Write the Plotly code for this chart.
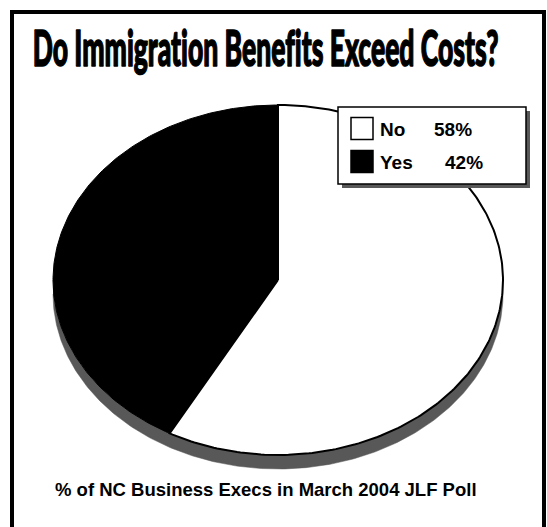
import json
import numpy as np
import plotly.graph_objects as go

# Poll results
categories = ["No", "Yes"]
shares = [58, 42]
slice_colors = ["#ffffff", "#000000"]
title_text = "Do Immigration Benefits Exceed Costs?"
footer_text = "% of NC Business Execs in March 2004 JLF Poll"

W, H = 547, 527

# Tilted pie geometry (pixel space): centre, radii and extrusion depth
cx, cy, rx, ry, depth = 278, 280, 225, 175, 14
side_color = "#585858"


def arc(t0, t1, n=240, dy=0.0):
    """Points on the ellipse; angle measured from 12 o'clock, counter-clockwise."""
    t = np.linspace(t0, t1, n)
    return cx - rx * np.sin(t), cy + dy - ry * np.cos(t)


fig = go.Figure()

# Extruded side of the pie (lower half only)
bx1, by1 = arc(np.pi / 2, 3 * np.pi / 2, dy=depth)
bx2, by2 = arc(3 * np.pi / 2, np.pi / 2, dy=0)
fig.add_trace(go.Scatter(
    x=np.concatenate([bx1, bx2]), y=np.concatenate([by1, by2]),
    fill="toself", fillcolor=side_color, mode="lines",
    line=dict(color=side_color, width=0.5), hoverinfo="skip", showlegend=False))

# Slices laid counter-clockwise from the top: "Yes" first, then "No"
order = [1, 0]
start = 0.0
for i in order:
    frac = shares[i] / sum(shares)
    t0, t1 = start * 2 * np.pi, (start + frac) * 2 * np.pi
    ax, ay = arc(t0, t1)
    xs = np.concatenate([[cx], ax, [cx]])
    ys = np.concatenate([[cy], ay, [cy]])
    fig.add_trace(go.Scatter(
        x=xs, y=ys, fill="toself", fillcolor=slice_colors[i], mode="lines",
        line=dict(color="#000000", width=2 if slice_colors[i] == "#ffffff" else 1),
        name=categories[i], hovertemplate=f"{categories[i]}: {shares[i]}%<extra></extra>",
        showlegend=False))
    start += frac

shapes = []
annotations = []

# Outer frame
shapes.append(dict(type="rect", xref="x", yref="y", x0=12, y0=12, x1=544, y1=545,
                   line=dict(color="#000000", width=4), fillcolor="rgba(0,0,0,0)"))

# Legend box with drop shadow
lx0, ly0, lx1, ly1 = 338, 107, 526, 184
shapes.append(dict(type="rect", xref="x", yref="y", x0=lx0 + 4, y0=ly0 + 4, x1=lx1 + 4, y1=ly1 + 4,
                   line=dict(width=0), fillcolor=side_color, layer="above"))
shapes.append(dict(type="rect", xref="x", yref="y", x0=lx0, y0=ly0, x1=lx1, y1=ly1,
                   line=dict(color="#000000", width=1.5), fillcolor="#ffffff", layer="above"))

legend_font = dict(family="Liberation Sans, Arial, sans-serif", size=19, color="#000")
row_y = [128.5, 161.5]
pct_x = [432, 443]
for k, i in enumerate([0, 1]):
    yc = row_y[k]
    shapes.append(dict(type="rect", xref="x", yref="y", x0=351, y0=yc - 11, x1=373, y1=yc + 11,
                       line=dict(color="#000000", width=1.5), fillcolor=slice_colors[i], layer="above"))
    annotations.append(dict(x=378, y=yc + 1, xref="x", yref="y", text=f"<b>{categories[i]}</b>",
                            showarrow=False, xanchor="left", yanchor="middle", font=legend_font))
    annotations.append(dict(x=pct_x[k], y=yc + 1, xref="x", yref="y", text=f"<b>{shares[i]}%</b>",
                            showarrow=False, xanchor="left", yanchor="middle", font=legend_font))

# Title and footer
annotations.append(dict(x=265, y=47, xref="x", yref="y", text=title_text,
                        showarrow=False, xanchor="center", yanchor="middle",
                        font=dict(family="Lato, Roboto, sans-serif", weight=900, size=50, color="#000")))
annotations.append(dict(x=266, y=489, xref="x", yref="y", text=f"<b>{footer_text}</b>",
                        showarrow=False, xanchor="center", yanchor="middle",
                        font=dict(family="Liberation Sans, Arial, sans-serif", size=18.5, color="#000")))

fig.update_layout(
    width=W, height=H, margin=dict(l=0, r=0, t=0, b=0),
    paper_bgcolor="#ffffff", plot_bgcolor="#ffffff",
    xaxis=dict(range=[0, W], visible=False, fixedrange=True),
    yaxis=dict(range=[H, 0], visible=False, fixedrange=True),
    shapes=shapes, annotations=annotations, showlegend=False,
)

# Condense and embolden the title face so it reads like a heavy condensed typeface
title_width_px = 466
post_js = """
(function(){
  var gd = document.getElementById('{plot_id}');
  var want = %s, target = %d;
  gd.querySelectorAll('g.annotation text').forEach(function(t){
    if (t.textContent !== want) return;
    t.removeAttribute('transform');
    t.style.fontVariantLigatures = 'none';
    t.style.fontFeatureSettings = '"liga" 0, "clig" 0';
    t.style.stroke = '#000';
    t.style.strokeWidth = '1.6px';
    t.style.strokeLinejoin = 'round';
    var bb = t.getBBox();
    var sx = target / bb.width;
    var mx = bb.x + bb.width / 2;
    t.setAttribute('transform', 'translate(' + mx + ',0) scale(' + sx + ',1) translate(' + (-mx) + ',0)');
  });
})();
""" % (json.dumps(title_text), title_width_px)

fig.write_html("out.html", config={"displayModeBar": False}, post_script=post_js)
